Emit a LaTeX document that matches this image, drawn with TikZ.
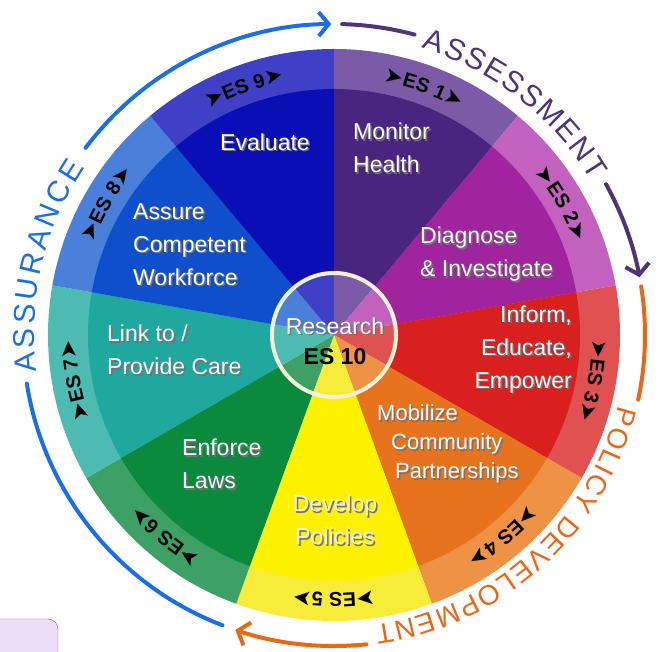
\documentclass[tikz,border=0pt]{standalone}
\usepackage{fontspec}
\setmainfont{Liberation Sans}
\setsansfont{Liberation Sans}
\newfontfamily\arrowfont{DejaVu Sans}
\usetikzlibrary{decorations.text,arrows.meta}

\definecolor{es1}{HTML}{4A2580}\definecolor{es1b}{HTML}{7B5BA8}
\definecolor{es2}{HTML}{A0249E}\definecolor{es2b}{HTML}{C262BE}
\definecolor{es3}{HTML}{D8201E}\definecolor{es3b}{HTML}{E05252}
\definecolor{es4}{HTML}{E8731E}\definecolor{es4b}{HTML}{EE9245}
\definecolor{es5}{HTML}{FFF200}\definecolor{es5b}{HTML}{F8EC3A}
\definecolor{es6}{HTML}{0B8A3E}\definecolor{es6b}{HTML}{3DA065}
\definecolor{es7}{HTML}{1EA89E}\definecolor{es7b}{HTML}{4DBBB2}
\definecolor{es8}{HTML}{0F4FCB}\definecolor{es8b}{HTML}{4A80DA}
\definecolor{es9}{HTML}{0A0FB5}\definecolor{es9b}{HTML}{4040C6}
\definecolor{assure}{HTML}{1A6EE8}
\definecolor{assess}{HTML}{4E3478}
\definecolor{policy}{HTML}{E8681A}
\definecolor{ring}{HTML}{F3F2D8}
\definecolor{boxfill}{HTML}{EBDDF6}
\definecolor{boxline}{HTML}{8E5DB5}

\newcommand\esarr{\arrowfont\fontsize{22}{22}\selectfont}
\newcommand\estxt{\bfseries\fontsize{20}{20}\selectfont}
\newcommand\arctxt{\fontsize{30}{30}\selectfont}
% white text with a dark drop shadow
\newcommand\sh[1]{\makebox[0pt][l]{\hspace{1.5pt}\raisebox{-1.5pt}{\color{black!55}#1}}#1}

\begin{document}
\begin{tikzpicture}[x=1pt,y=1pt]
    \tikzstyle{lbl} = [text=white, font=\fontsize{23}{33}\selectfont, inner sep=0pt]
    \tikzstyle{bigarc} = [line width=4pt, line cap=round]
    \tikzstyle{tip} = [-{Straight Barb[length=10pt,width=24pt]}]
    \useasboundingbox (-334,-317) rectangle (325,335);

    % wedges: band colour to the rim, main colour between hub and band
    \fill[es1b] (0,0) -- (90:286pt) arc (90:50:286pt) -- cycle;
    \fill[es2b] (0,0) -- (50:286pt) arc (50:10:286pt) -- cycle;
    \fill[es3b] (0,0) -- (10:286pt) arc (10:-30:286pt) -- cycle;
    \fill[es4b] (0,0) -- (-30:286pt) arc (-30:-70:286pt) -- cycle;
    \fill[es5b] (0,0) -- (-70:286pt) arc (-70:-110:286pt) -- cycle;
    \fill[es6b] (0,0) -- (-110:286pt) arc (-110:-150:286pt) -- cycle;
    \fill[es7b] (0,0) -- (-150:286pt) arc (-150:-190:286pt) -- cycle;
    \fill[es8b] (0,0) -- (170:286pt) arc (170:130:286pt) -- cycle;
    \fill[es9b] (0,0) -- (130:286pt) arc (130:90:286pt) -- cycle;

    \fill[es1] (90:62pt) -- (90:246pt) arc (90:50:246pt) -- (50:62pt) arc (50:90:62pt) -- cycle;
    \fill[es2] (50:62pt) -- (50:246pt) arc (50:10:246pt) -- (10:62pt) arc (10:50:62pt) -- cycle;
    \fill[es3] (10:62pt) -- (10:246pt) arc (10:-30:246pt) -- (-30:62pt) arc (-30:10:62pt) -- cycle;
    \fill[es4] (-30:62pt) -- (-30:246pt) arc (-30:-70:246pt) -- (-70:62pt) arc (-70:-30:62pt) -- cycle;
    \fill[es5] (-70:62pt) -- (-70:246pt) arc (-70:-110:246pt) -- (-110:62pt) arc (-110:-70:62pt) -- cycle;
    \fill[es6] (-110:62pt) -- (-110:246pt) arc (-110:-150:246pt) -- (-150:62pt) arc (-150:-110:62pt) -- cycle;
    \fill[es7] (-150:62pt) -- (-150:246pt) arc (-150:-190:246pt) -- (-190:62pt) arc (-190:-150:62pt) -- cycle;
    \fill[es8] (170:62pt) -- (170:246pt) arc (170:130:246pt) -- (130:62pt) arc (130:170:62pt) -- cycle;
    \fill[es9] (130:62pt) -- (130:246pt) arc (130:90:246pt) -- (90:62pt) arc (90:130:62pt) -- cycle;

    % ES numbers in the band
    \path[decorate, decoration={text along path, text align=center, text={|\esarr|➤|\estxt|ES 1|\esarr|➤}}] (90:258pt) arc (90:50:258pt);
    \path[decorate, decoration={text along path, text align=center, text={|\esarr|➤|\estxt|ES 2|\esarr|➤}}] (50:258pt) arc (50:10:258pt);
    \path[decorate, decoration={text along path, text align=center, text={|\esarr|➤|\estxt|ES 3|\esarr|➤}}] (10:258pt) arc (10:-30:258pt);
    \path[decorate, decoration={text along path, text align=center, text={|\esarr|➤|\estxt|ES 4|\esarr|➤}}] (-30:258pt) arc (-30:-70:258pt);
    \path[decorate, decoration={text along path, text align=center, text={|\esarr|➤|\estxt|ES 5|\esarr|➤}}] (-70:258pt) arc (-70:-110:258pt);
    \path[decorate, decoration={text along path, text align=center, text={|\esarr|➤|\estxt|ES 6|\esarr|➤}}] (-110:258pt) arc (-110:-150:258pt);
    \path[decorate, decoration={text along path, text align=center, text={|\esarr|➤|\estxt|ES 7|\esarr|➤}}] (-150:258pt) arc (-150:-190:258pt);
    \path[decorate, decoration={text along path, text align=center, text={|\esarr|➤|\estxt|ES 8|\esarr|➤}}] (170:258pt) arc (170:130:258pt);
    \path[decorate, decoration={text along path, text align=center, text={|\esarr|➤|\estxt|ES 9|\esarr|➤}}] (130:258pt) arc (130:90:258pt);

    % hub
    \node[circle, draw=ring, line width=4pt, minimum size=124pt, inner sep=0pt] (hub) at (0,0) {};
    \node[lbl] (research) at (1,8) {\sh{Research}};
    \node[lbl, text=black, font=\bfseries\fontsize{23}{33}\selectfont] (es10) at (1,-22) {ES 10};

    % services
    \node[lbl, anchor=west, align=left] (monitor) at (19,186) {\sh{Monitor}\\\sh{Health}};
    \node[lbl, anchor=west, align=left] (diagnose) at (86,80) {\sh{Diagnose}\\\sh{\& Investigate}};
    \node[lbl, anchor=east, align=right] (inform) at (238,-15) {\sh{Inform,}\\\sh{Educate,}\\\sh{Empower}};
    \node[lbl, anchor=west, align=left, font=\fontsize{22}{29}\selectfont] (mobilize) at (43,-110) {\sh{Mobilize}\\\hspace{14pt}\sh{Community}\\\hspace{18pt}\sh{Partnerships}};
    \node[lbl, align=center, text=ring] (develop) at (1,-186) {\sh{Develop}\\\sh{Policies}};
    \node[lbl, anchor=west, align=left] (enforce) at (-152,-130) {\sh{Enforce}\\\sh{Laws}};
    \node[lbl, anchor=west, align=left] (link) at (-227,-16) {\sh{Link to /}\\\sh{Provide Care}};
    \node[lbl, anchor=west, align=left] (assureworkforce) at (-201,90) {\sh{Assure}\\\sh{Competent}\\\sh{Workforce}};
    \node[lbl] (evaluate) at (-69,192) {\sh{Evaluate}};

    % outer cycle
    \draw[bigarc, assure] (249:311pt) arc (249:189:311pt);
    \draw[bigarc, assure, tip] (143:311pt) arc (143:90.5:311pt);
    \path[decorate, decoration={text along path, text align=fit to path, text color=assure, text={|\arctxt|ASSURANCE}}] (187:300pt) arc (187:146:300pt);
    \draw[bigarc, assess] (88.5:311pt) arc (88.5:75:311pt);
    \draw[bigarc, assess, tip] (29:311pt) arc (29:10.7:311pt);
    \path[decorate, decoration={text along path, text align=fit to path, text color=assess, text={|\arctxt|ASSESSMENT}}] (73:300pt) arc (73:31:300pt);
    \draw[bigarc, policy] (9:311pt) arc (9:-12:311pt);
    \draw[bigarc, policy, tip] (-84:311pt) arc (-84:-108.5:311pt);
    \path[decorate, decoration={text along path, text align=fit to path, text color=policy, text={|\fontsize{28}{28}\selectfont|POLICY DEVELOPMENT}}] (-14:293pt) arc (-14:-82:293pt);

    % box at the lower left
    \begin{scope}
        \clip (-334,-317) rectangle (325,335);
        \filldraw[fill=boxfill, draw=boxline, rounded corners=10pt] (-344,-345) rectangle (-276,-284);
    \end{scope}
\end{tikzpicture}
\end{document}
